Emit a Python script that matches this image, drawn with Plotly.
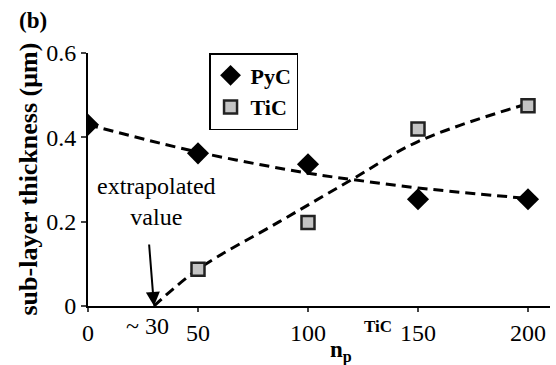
import plotly.graph_objects as go

# Measured data
n_p = [0, 50, 100, 150, 200]
pyc = [0.43, 0.362, 0.336, 0.253, 0.253]
n_p_tic = [50, 100, 150, 200]
tic = [0.087, 0.198, 0.42, 0.475]

# Dashed trend curves
pyc_fit_x = [0, 50, 100, 120, 150, 200]
pyc_fit_y = [0.43, 0.365, 0.315, 0.30, 0.28, 0.255]
tic_fit_x = [30, 50, 87, 120, 150, 200]
tic_fit_y = [0.0, 0.087, 0.20, 0.30, 0.39, 0.48]

x_ticks = [0, 50, 100, 150, 200]
y_ticks = [0, 0.2, 0.4, 0.6]
y_ticktext = ["0", "0.2", "0.4", "0.6"]

FONT = "Liberation Serif"

fig = go.Figure()
fig.add_trace(go.Scatter(x=pyc_fit_x, y=pyc_fit_y, mode="lines", showlegend=False,
                         line=dict(color="black", width=3, dash="10px,6px", shape="spline"),
                         hoverinfo="skip"))
fig.add_trace(go.Scatter(x=tic_fit_x, y=tic_fit_y, mode="lines", showlegend=False,
                         line=dict(color="black", width=3, dash="10px,6px", shape="spline"),
                         hoverinfo="skip"))
fig.add_trace(go.Scatter(x=n_p, y=pyc, mode="markers", name="<b>PyC</b>",
                         marker=dict(symbol="diamond", size=17, color="black",
                                     line=dict(color="black", width=0))))
fig.add_trace(go.Scatter(x=n_p_tic, y=tic, mode="markers", name="<b>TiC</b>",
                         marker=dict(symbol="square", size=13, color="#c4c4c4",
                                     line=dict(color="#222222", width=2.5))))

fig.update_layout(
    width=556, height=365,
    margin=dict(l=88, r=6, t=53, b=59),
    plot_bgcolor="white", paper_bgcolor="white",
    font=dict(family=FONT, size=24, color="black"),
    legend=dict(x=0.262, y=1.0, xanchor="left", yanchor="top",
                bordercolor="black", borderwidth=1.5, bgcolor="white",
                font=dict(family=FONT, size=22, color="black"),
                itemwidth=30, tracegroupgap=0),
    xaxis=dict(range=[0, 210], tickvals=x_ticks, ticks="outside", ticklen=4,
               tickwidth=1.5, showline=True, linecolor="black", linewidth=2,
               showgrid=False, zeroline=False, automargin=False,
               tickfont=dict(family=FONT, size=24)),
    yaxis=dict(range=[0, 0.6], tickvals=y_ticks, ticktext=y_ticktext,
               ticks="outside", ticklen=5, tickwidth=1.5,
               showline=True, linecolor="black", linewidth=2,
               showgrid=False, zeroline=False, automargin=False,
               tickfont=dict(family=FONT, size=24)),
)

# axis titles, placed as in the reference
fig.add_annotation(text="<b>sub-layer thickness (\u03bcm)</b>", xref="paper", yref="paper",
                   x=0, y=0.5, xanchor="center", yanchor="middle", xshift=-60,
                   textangle=-90, showarrow=False, font=dict(family=FONT, size=26))
fig.add_annotation(text="<b>n<sub>p</sub></b>", xref="paper", yref="paper",
                   x=0.52, y=0, xanchor="left", yanchor="top", yshift=-29,
                   showarrow=False, font=dict(family=FONT, size=23))
fig.add_annotation(text="<b>TiC</b>", xref="paper", yref="paper",
                   x=0.593, y=0, xanchor="left", yanchor="middle", yshift=-20,
                   showarrow=False, font=dict(family=FONT, size=17))
fig.add_annotation(text="<b>(b)</b>", xref="paper", yref="paper", x=-0.154, y=1.13,
                   xanchor="left", yanchor="middle", showarrow=False,
                   font=dict(family=FONT, size=23))
fig.add_annotation(text="extrapolated<br>value", x=31, y=0.248, showarrow=False,
                   font=dict(family=FONT, size=24))
fig.add_annotation(x=30, y=0, ax=-5, ay=-63, text="", showarrow=True,
                   arrowhead=2, arrowsize=1.4, arrowwidth=2, arrowcolor="black")
fig.add_annotation(text="~ 30", x=27, y=0, yref="y", yanchor="top", yshift=-5,
                   showarrow=False, font=dict(family=FONT, size=24))

fig.write_html("out.html", config={"displayModeBar": False},
               post_script="document.body.style.margin='0';")
